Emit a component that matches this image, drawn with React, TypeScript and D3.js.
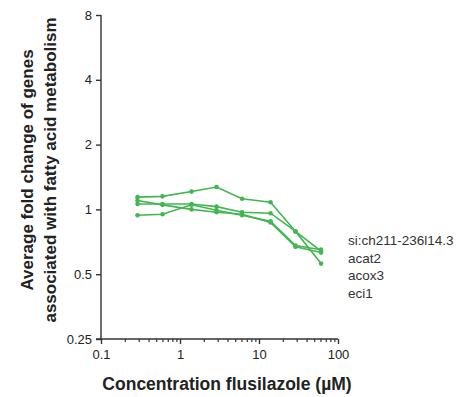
import { useEffect, useRef } from "react";
import * as d3 from "d3";

// concentrations (µM) and fold change per gene
const concentrations = [0.29, 0.6, 1.4, 2.9, 6.1, 14, 29, 61];
const genes = ["si:ch211-236l14.3", "acat2", "acox3", "eci1"];
const siCh211 = [1.14, 1.15, 1.21, 1.27, 1.12, 1.08, 0.79, 0.64];
const acat2 = [1.1, 1.05, 1.0, 0.97, 0.95, 0.87, 0.67, 0.63];
const acox3 = [1.06, 1.06, 1.06, 1.03, 0.97, 0.96, 0.79, 0.56];
const eci1 = [0.94, 0.95, 1.05, 0.99, 0.94, 0.88, 0.68, 0.65];
const yTicks = [0.25, 0.5, 1, 2, 4, 8];
const xTicks = [0.1, 1, 10, 100];

const green = "#42b650";
const axisColor = "#333";
const font = "'Liberation Sans', Arial, sans-serif";

export default function App() {
  const svgRef = useRef<SVGSVGElement | null>(null);

  useEffect(() => {
    const svg = d3.select(svgRef.current);
    svg.selectAll("*").remove();

    const x = d3.scaleLog().domain([0.1, 100]).range([101, 338]);
    const y = d3.scaleLog().base(2).domain([0.25, 8]).range([339, 15]);

    const series = [siCh211, acat2, acox3, eci1];

    // lines + dots
    const line = d3.line<number>()
      .x((d, i) => x(concentrations[i]))
      .y(d => y(d));

    series.forEach(values => {
      svg.append("path")
        .attr("d", line(values))
        .attr("fill", "none")
        .attr("stroke", green)
        .attr("stroke-width", 1.6);
      svg.selectAll(null)
        .data(values)
        .join("circle")
        .attr("cx", (d, i) => x(concentrations[i]))
        .attr("cy", d => y(d))
        .attr("r", 2.3)
        .attr("fill", green);
    });

    // y axis
    const yAxis = svg.append("g")
      .attr("transform", "translate(101,0)")
      .call(d3.axisLeft(y).tickValues(yTicks).tickFormat(d3.format("")).tickSize(5).tickPadding(4));
    yAxis.select(".domain").attr("stroke", axisColor).attr("stroke-width", 1.4).attr("d", "M0,15V339");
    yAxis.selectAll(".tick line").attr("stroke", axisColor).attr("stroke-width", 1.4);
    yAxis.selectAll(".tick text")
      .attr("fill", "#222")
      .style("font-family", font)
      .style("font-size", "13px");

    // x axis with minor ticks
    const minor = d3.range(-1, 2).flatMap(e => d3.range(2, 10).map(m => m * Math.pow(10, e)));
    const xAxisMinor = svg.append("g")
      .attr("transform", "translate(0,339)")
      .call(d3.axisBottom(x).tickValues(minor).tickFormat(() => "").tickSize(3));
    xAxisMinor.select(".domain").remove();
    xAxisMinor.selectAll(".tick line").attr("stroke", axisColor).attr("stroke-width", 1.2);

    const xAxis = svg.append("g")
      .attr("transform", "translate(0,339)")
      .call(d3.axisBottom(x).tickValues(xTicks).tickFormat(d3.format("")).tickSize(5).tickPadding(6));
    xAxis.select(".domain").attr("stroke", axisColor).attr("stroke-width", 1.4).attr("d", "M96,0H338");
    xAxis.selectAll(".tick line").attr("stroke", axisColor).attr("stroke-width", 1.4);
    xAxis.selectAll(".tick text")
      .attr("fill", "#222")
      .style("font-family", font)
      .style("font-size", "13px");

    // axis titles
    svg.append("text")
      .attr("x", 227)
      .attr("y", 390)
      .attr("text-anchor", "middle")
      .style("font-family", font)
      .style("font-size", "17.5px")
      .style("font-weight", "bold")
      .attr("fill", "#222")
      .text("Concentration flusilazole (µM)");

    const yTitle = svg.append("text")
      .attr("transform", "translate(0,170) rotate(-90)")
      .attr("text-anchor", "middle")
      .style("font-family", font)
      .style("font-size", "17px")
      .style("font-weight", "bold")
      .attr("fill", "#222");
    yTitle.append("tspan").attr("x", 0).attr("y", 33).text("Average fold change of genes");
    yTitle.append("tspan").attr("x", 0).attr("y", 56).text("associated with fatty acid metabolism");

    // gene labels
    svg.selectAll(null)
      .data(genes)
      .join("text")
      .attr("x", 348)
      .attr("y", (d, i) => 245 + i * 17.5)
      .style("font-family", font)
      .style("font-size", "13.5px")
      .attr("fill", "#333")
      .text(d => d);
  }, []);

  return (
    <div style={{ position: "absolute", left: 0, top: 0 }}>
      <svg ref={svgRef} width={467} height={397} style={{ display: "block", background: "#fff" }} />
    </div>
  );
}
